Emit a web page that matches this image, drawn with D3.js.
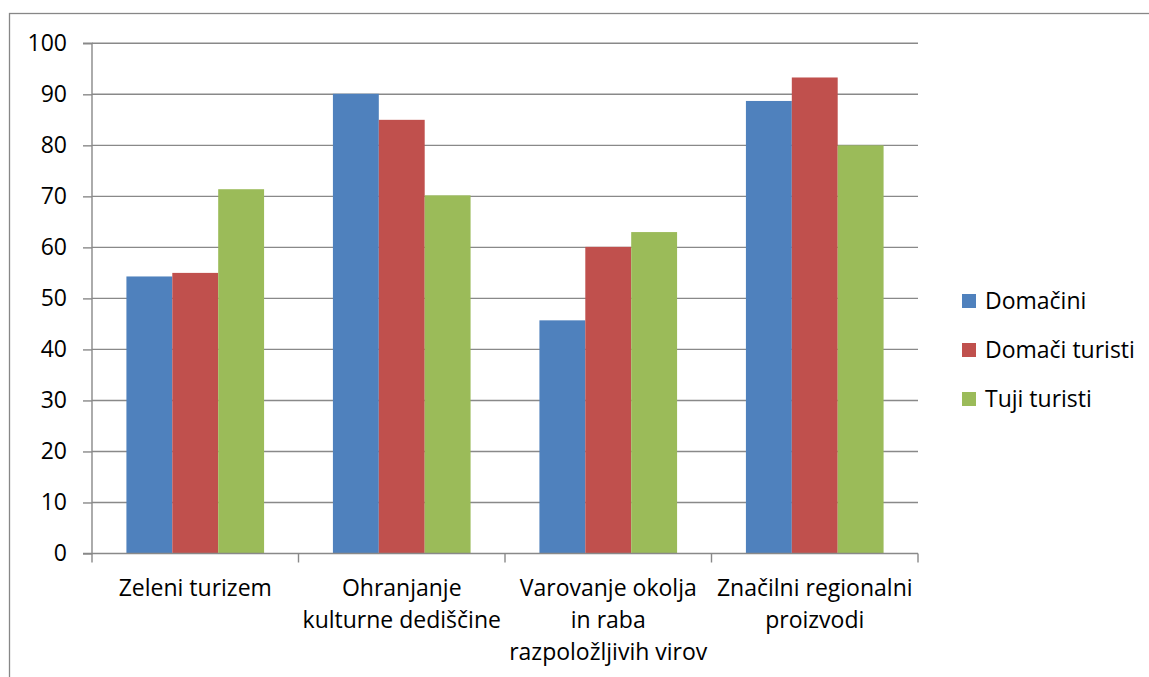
<!DOCTYPE html>
<html><head><meta charset="utf-8">
<script src="https://cdn.jsdelivr.net/npm/d3@7"></script>
<style>
html,body{margin:0;padding:0;background:#fff;}
svg{display:block;font-family:"Open Sans",sans-serif;}
</style></head>
<body><svg id="c" width="1149" height="677"></svg>
<script>
const categories = [
  ["Zeleni turizem"],
  ["Ohranjanje", "kulturne dediščine"],
  ["Varovanje okolja", "in raba", "razpoložljivih virov"],
  ["Značilni regionalni", "proizvodi"]
];
const seriesNames = ["Domačini", "Domači turisti", "Tuji turisti"];
const domacini = [54.3, 90.1, 45.7, 88.7];
const domaciTuristi = [55.0, 85.0, 60.1, 93.3];
const tujiTuristi = [71.4, 70.2, 63.0, 80.0];
const yTicks = [0, 10, 20, 30, 40, 50, 60, 70, 80, 90, 100];
const colors = ["#4F81BD", "#C0504D", "#9BBB59"];

const series = [domacini, domaciTuristi, tujiTuristi];
const svg = d3.select("#c");
const FS = 23;

// outer border
svg.append("rect").attr("x", 9.5).attr("y", 13.5).attr("width", 1150).attr("height", 700)
  .attr("fill", "none").attr("stroke", "#878787").attr("stroke-width", 1.3);

const x0 = 92, x1 = 918, yTop = 43.3, yBot = 553.5;
const y = d3.scaleLinear().domain([0, 100]).range([yBot, yTop]);
const xb = d3.scaleBand().domain(d3.range(categories.length)).range([x0, x1]);
const bw = xb.bandwidth() / 4.5;

// gridlines
svg.append("g").selectAll("line").data(yTicks.filter(d => d > 0)).join("line")
  .attr("x1", x0).attr("x2", x1).attr("y1", d => y(d)).attr("y2", d => y(d))
  .attr("stroke", "#898989").attr("stroke-width", 1.4);

// bars
const g = svg.append("g");
series.forEach((vals, si) => {
  g.selectAll(null).data(vals).join("rect")
    .attr("x", (d, i) => xb(i) + 0.75 * bw + si * bw)
    .attr("y", d => y(d))
    .attr("width", bw)
    .attr("height", d => yBot - y(d))
    .attr("fill", colors[si]);
});

// y axis
const yAxis = d3.axisLeft(y).tickValues(yTicks).tickSize(9).tickPadding(16);
const ya = svg.append("g").attr("transform", `translate(${x0},0)`).call(yAxis);
ya.select(".domain").attr("stroke", "#898989").attr("stroke-width", 1.4).attr("d", `M-9,${yTop}H0V${yBot}H-9`);
ya.selectAll(".tick line").attr("stroke", "#898989").attr("stroke-width", 1.4);
ya.selectAll(".tick text").attr("font-size", FS).attr("fill", "#000").attr("font-family", "Open Sans");

// x axis baseline and ticks
const xa = svg.append("g");
xa.append("line").attr("x1", x0).attr("x2", x1).attr("y1", yBot).attr("y2", yBot)
  .attr("stroke", "#898989").attr("stroke-width", 1.4);
const bounds = d3.range(categories.length + 1).map(i => i < categories.length ? xb(i) : x1);
xa.selectAll(null).data(bounds).join("line")
  .attr("x1", d => d).attr("x2", d => d).attr("y1", yBot).attr("y2", yBot + 9)
  .attr("stroke", "#898989").attr("stroke-width", 1.4);

// category labels
const lab = svg.append("g").attr("font-size", FS).attr("text-anchor", "middle").attr("fill", "#000");
categories.forEach((lines, i) => {
  const cx = xb(i) + xb.bandwidth() / 2;
  lines.forEach((t, j) => {
    lab.append("text").attr("x", cx).attr("y", 596 + j * 32).text(t);
  });
});

// legend
const lg = svg.append("g");
seriesNames.forEach((n, i) => {
  const cy = 301 + i * 49;
  lg.append("rect").attr("x", 962).attr("y", cy - 7).attr("width", 14).attr("height", 14).attr("fill", colors[i]);
  lg.append("text").attr("x", 985).attr("y", cy + 8).attr("font-size", FS).attr("fill", "#000").text(n);
});
</script>
</body></html>
